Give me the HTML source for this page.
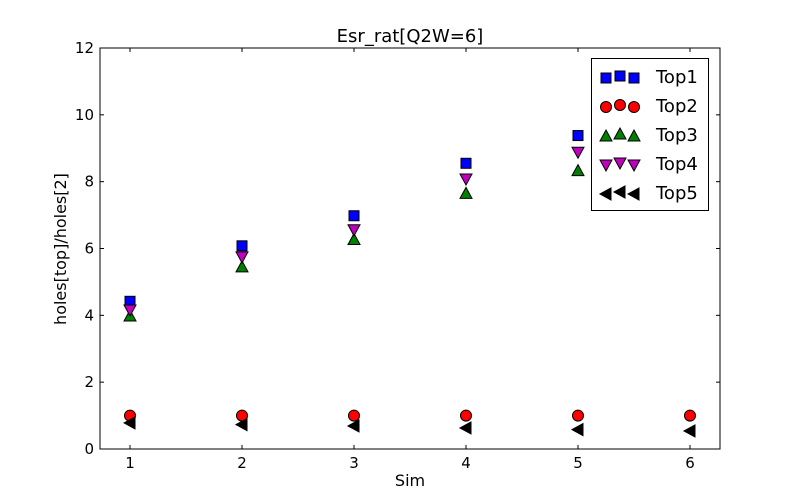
<!DOCTYPE html>
<html><head><meta charset="utf-8"><style>
body{margin:0;background:#fff;}
svg{display:block;font-family:"DejaVu Sans","Liberation Sans",sans-serif;}
</style></head><body>
<svg id="chart" width="800" height="500" viewBox="0 0 800 500">
<rect width="800" height="500" fill="#fff"/>
<g id="marks"></g>
<g id="axes"></g>
<text x="410" y="42" font-size="18" text-anchor="middle">Esr_rat[Q2W=6]</text>
<text x="410" y="486" font-size="16" text-anchor="middle">Sim</text>
<text transform="translate(66,249) rotate(-90)" font-size="16" text-anchor="middle">holes[top]/holes[2]</text>
<g id="legend"></g>
</svg>
<script>
const categories=[1,2,3,4,5,6];
const top1=[4.42,6.08,6.98,8.55,9.38,10.3];
const top2=[1,1,1,1,1,1];
const top3=[3.98,5.45,6.27,7.65,8.33,9.1];
const top4=[4.16,5.75,6.56,8.08,8.88,9.7];
const top5=[0.78,0.73,0.69,0.63,0.58,0.54];
const yTicks=[0,2,4,6,8,10,12];
const xTicks=[1,2,3,4,5,6];
const seriesNames=["Top1","Top2","Top3","Top4","Top5"];

const L=100,R=720,T=48,B=449,xmin=0.732,xmax=6.268,ymin=0,ymax=12;
const X=v=>L+(v-xmin)/(xmax-xmin)*(R-L);
const Y=v=>B-(v-ymin)/(ymax-ymin)*(B-T);
const NS="http://www.w3.org/2000/svg";
function mk(tag,attrs,parent){const e=document.createElementNS(NS,tag);for(const k in attrs)e.setAttribute(k,attrs[k]);parent.appendChild(e);return e;}
const styles=[{c:"#0000ff",s:"square"},{c:"#ff0000",s:"circle"},{c:"#008000",s:"up"},{c:"#bf00bf",s:"down"},{c:"#000000",s:"left"}];
function marker(parent,shape,color,cx,cy){
  const r=5;let e;
  if(shape==="square")e=mk("rect",{x:cx-r,y:cy-r,width:2*r,height:2*r},parent);
  else if(shape==="circle")e=mk("circle",{cx:cx,cy:cy,r:r+0.5},parent);
  else if(shape==="up")e=mk("polygon",{points:`${cx},${cy-r-1} ${cx+r+1},${cy+r} ${cx-r-1},${cy+r}`},parent);
  else if(shape==="down")e=mk("polygon",{points:`${cx},${cy+r+1} ${cx+r+1},${cy-r} ${cx-r-1},${cy-r}`},parent);
  else e=mk("polygon",{points:`${cx-r-1},${cy} ${cx+r},${cy-r-1} ${cx+r},${cy+r+1}`},parent);
  e.setAttribute("fill",color);e.setAttribute("stroke","#000");e.setAttribute("stroke-width","1");
  return e;
}
const marks=document.getElementById("marks");
[top1,top2,top3,top4,top5].forEach((vals,si)=>{
  vals.forEach((v,i)=>{
    const m=marker(marks,styles[si].s,styles[si].c,X(categories[i]),Y(v));
    
    
  });
});
const ax=document.getElementById("axes");
const frame=mk("rect",{x:L,y:T,width:R-L,height:B-T,fill:"none",stroke:"#000","stroke-width":1},ax);


yTicks.forEach(t=>{
  const y=Y(t);
  mk("line",{x1:L,x2:L+4,y1:y,y2:y,stroke:"#000"},ax);
  mk("line",{x1:R,x2:R-4,y1:y,y2:y,stroke:"#000"},ax);
  const tx=mk("text",{x:L-6,y:y+5,"font-size":15,"text-anchor":"end"},ax);tx.textContent=t;
  
  
});
xTicks.forEach(t=>{
  const x=X(t);
  mk("line",{x1:x,x2:x,y1:B,y2:B-4,stroke:"#000"},ax);
  mk("line",{x1:x,x2:x,y1:T,y2:T+4,stroke:"#000"},ax);
  const tx=mk("text",{x:x,y:B+19,"font-size":15,"text-anchor":"middle"},ax);tx.textContent=t;
  
  
});
const lg=document.getElementById("legend");
mk("rect",{x:591.5,y:58.5,width:117,height:152,fill:"#fff",stroke:"#000"},lg);
seriesNames.forEach((n,i)=>{
  const y=77+i*29;
  const g=mk("g",{},lg);
  
  
  marker(g,styles[i].s,styles[i].c,606,y+1);
  marker(g,styles[i].s,styles[i].c,620,y-1);
  marker(g,styles[i].s,styles[i].c,634,y+1);
  const t=mk("text",{x:656,y:y+6,"font-size":18},g);t.textContent=n;
});
</script>
</body></html>
